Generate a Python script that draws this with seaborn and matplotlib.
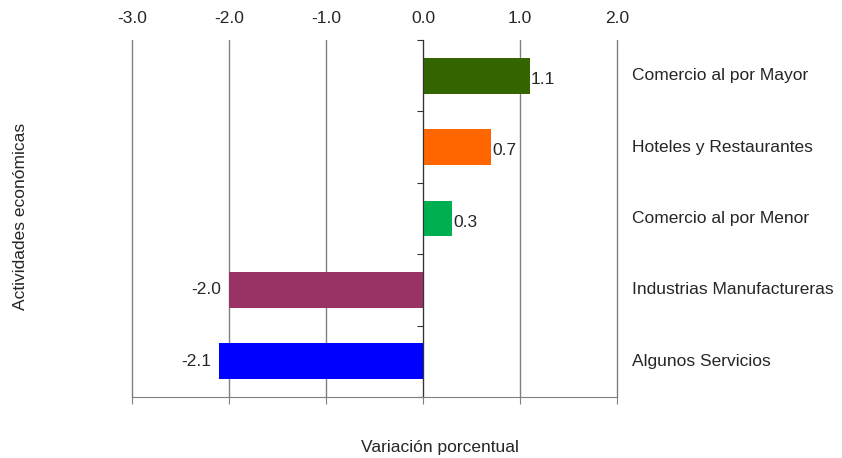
import matplotlib
matplotlib.use("Agg")
import matplotlib.pyplot as plt
import seaborn as sns
import pandas as pd

# ---------- Data ----------
actividades = [
    "Comercio al por Mayor",
    "Hoteles y Restaurantes",
    "Comercio al por Menor",
    "Industrias Manufactureras",
    "Algunos Servicios",
]
variacion = [1.1, 0.7, 0.3, -2.0, -2.1]
colores = ["#336600", "#FF6600", "#00B050", "#993366", "#0000FF"]
ticks_x = [-3.0, -2.0, -1.0, 0.0, 1.0, 2.0]

df = pd.DataFrame({"actividad": actividades, "variacion": variacion})

sns.set_style("white")
plt.rcParams["font.family"] = ["Liberation Sans", "DejaVu Sans"]
FS = 12.5

fig = plt.figure(figsize=(8.42, 4.58), dpi=100)
ax = fig.add_axes([0.157, 0.1332, 0.576, 0.7795])

sns.barplot(
    data=df, x="variacion", y="actividad", hue="actividad",
    palette=colores, orient="h", width=0.5, legend=False, ax=ax,
    saturation=1, edgecolor="none",
)

ax.set_xlim(-3, 2)
ax.set_ylim(4.5, -0.5)
ax.set_xticks(ticks_x)
ax.set_xticklabels([f"{t:.1f}" for t in ticks_x], fontsize=FS)
ax.grid(axis="x", color="#808080", linewidth=1)
for gl in ax.get_xgridlines():
    gl.set_clip_on(False)
ax.set_axisbelow(True)

# x axis: labels on top, ticks on bottom
ax.tick_params(axis="x", top=False, labeltop=True, bottom=True,
               labelbottom=False, direction="out", length=5,
               color="#808080", pad=5)

# y axis at x = 0
for s in ["top", "right"]:
    ax.spines[s].set_visible(False)
ax.spines["left"].set_position(("data", 0))
ax.spines["left"].set_color("#333333")
ax.spines["bottom"].set_color("#808080")
ax.set_yticks([-0.5, 0.5, 1.5, 2.5, 3.5, 4.5])
ax.set_yticklabels([])
ax.tick_params(axis="y", left=True, length=4, direction="out", color="#333333")
ax.set_ylabel("")
ax.set_xlabel("")

# value labels
for i, v in enumerate(variacion):
    if v >= 0:
        ax.text(v + 0.01, i + 0.05, f"{v:.1f}", ha="left", va="center", fontsize=FS)
    else:
        ax.text(v - 0.08, i, f"{v:.1f}", ha="right", va="center", fontsize=FS)
    ax.text(2.15, i, actividades[i], ha="left", va="center", fontsize=FS)

fig.text(0.024, 0.528, "Actividades económicas", rotation=90,
         ha="center", va="center", fontsize=FS)
fig.text(0.522, 0.022, "Variación porcentual", ha="center", va="center",
         fontsize=FS)

fig.savefig("out.png", dpi=100)
